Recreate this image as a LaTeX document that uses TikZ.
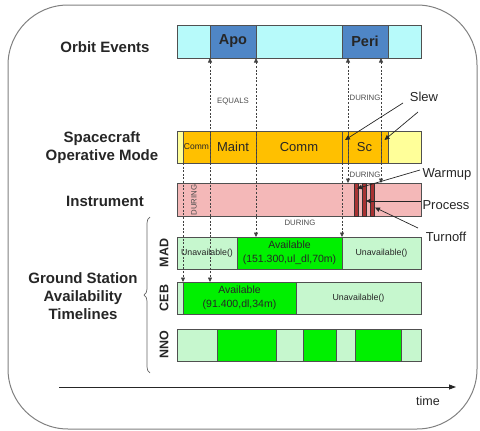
\documentclass[tikz,border=0pt]{standalone}
\usepackage{fontspec}
\setmainfont{Liberation Sans}
\usetikzlibrary{arrows.meta,decorations.pathreplacing}
\definecolor{cyanl}{HTML}{B7FAFA}
\definecolor{blueb}{HTML}{4F86C6}
\definecolor{orng}{HTML}{FFC000}
\definecolor{yell}{HTML}{FFFF99}
\definecolor{pnk}{HTML}{F4B8B8}
\definecolor{dred}{HTML}{A83232}
\definecolor{lgrn}{HTML}{C6F7CE}
\definecolor{grn}{HTML}{00F000}
\definecolor{edgec}{HTML}{505050}
\definecolor{framec}{HTML}{808080}
\begin{document}
\begin{tikzpicture}[x=1pt,y=-1pt,
  seg/.style={draw=edgec, line width=0.8pt, anchor=north west, inner sep=0pt, outer sep=0pt, align=center, text=black!85},
  orow/.style={seg, minimum height=33pt},
  srow/.style={seg, minimum height=32pt},
  gsrow/.style={seg, minimum height=32pt},
  rowlab/.style={font=\fontsize{15}{18}\selectfont\bfseries, align=center, text=black!85},
  stlab/.style={font=\fontsize{12.5}{15}\selectfont\bfseries, rotate=90, text=black!85},
  rel/.style={font=\fontsize{7.8}{9}\selectfont, text=black!70},
  call/.style={font=\fontsize{13}{15}\selectfont, text=black!85},
  bigt/.style={font=\fontsize{14.5}{17}\selectfont\bfseries},
  midt/.style={font=\fontsize{13}{15}\selectfont},
  unav/.style={font=\fontsize{8.8}{10}\selectfont},
  avail/.style={font=\fontsize{10.5}{13.5}\selectfont},
  dl/.style={draw=black!75, line width=0.6pt, dash pattern=on 2pt off 1.6pt},
  tipb/.style={{Triangle[length=4.5pt,width=4pt]}-{Triangle[length=4.5pt,width=4pt]}},
  tipe/.style={-{Triangle[length=4.5pt,width=4pt]}},
  ptr/.style={draw=black!85, line width=0.7pt, -{Triangle[length=5pt,width=4.5pt]}},
  bar/.style={draw=black!80, line width=0.5pt, fill=dred, anchor=north west, inner sep=0pt, outer sep=0pt, minimum width=4pt, minimum height=33pt}
]
\useasboundingbox (0,0) rectangle (480,431);
% frame
\draw[draw=framec, line width=1pt, rounded corners=60pt] (8,5) rectangle (477,429);

% row labels
\node[rowlab] (lorb) at (105,47) {Orbit Events};
\node[rowlab] (lsc) at (102,148) {Spacecraft\\Operative Mode};
\node[rowlab] (lins) at (105,201) {Instrument};
\node[rowlab] (lgs) at (83,296) {Ground Station\\Availability\\Timelines};
\draw[draw=black!60, line width=0.7pt, decorate, decoration={brace, amplitude=6pt}] (150,373) -- (150,217);
\node[stlab] (lmad) at (164,253) {MAD};
\node[stlab] (lceb) at (164,298) {CEB};
\node[stlab] (lnno) at (164,345) {NNO};

% orbit
\node[orow, fill=cyanl, minimum width=33pt] (o0) at (177,25) {};
\node[orow, fill=blueb, minimum width=46pt, bigt] (apo) at (210,25) {Apo};
\node[orow, fill=cyanl, minimum width=86pt] (o2) at (256,25) {};
\node[orow, fill=blueb, minimum width=46pt, bigt] (peri) at (342,25) {Peri};
\node[orow, fill=cyanl, minimum width=33pt] (o4) at (388,25) {};

% spacecraft
\node[srow, fill=yell, minimum width=6pt] (sc0) at (177,131) {};
\node[srow, fill=orng, minimum width=27pt, font=\fontsize{8.5}{10}\selectfont] (sc1) at (183,131) {Comm};
\node[srow, fill=orng, minimum width=46pt, midt] (sc2) at (210,131) {Maint};
\node[srow, fill=orng, minimum width=86pt, midt] (sc3) at (256,131) {Comm};
\node[srow, fill=orng, minimum width=6pt] (sc4) at (342,131) {};
\node[srow, fill=orng, minimum width=33pt, midt] (sc5) at (348,131) {Sc};
\node[srow, fill=orng, minimum width=7pt] (sc6) at (381,131) {};
\node[srow, fill=yell, minimum width=33pt] (sc7) at (388,131) {};

% instrument
\node[seg, fill=pnk, minimum width=244pt, minimum height=33pt] (ins) at (177,183) {};
\node[bar] (b1) at (354,183) {};
\node[bar] (b2) at (362,183) {};
\node[bar] (b3) at (370,183) {};

% MAD
\node[gsrow, fill=lgrn, minimum width=60pt, unav] (mad0) at (177,237) {Unavailable()};
\node[gsrow, fill=grn, minimum width=105pt, avail] (mad1) at (237,237) {Available\\(151.300,ul\_dl,70m)};
\node[gsrow, fill=lgrn, minimum width=79pt, unav] (mad2) at (342,237) {Unavailable()};

% CEB
\node[gsrow, fill=lgrn, minimum width=6pt] (ceb0) at (177,282) {};
\node[gsrow, fill=grn, minimum width=113pt, avail] (ceb1) at (183,282) {Available\\(91.400,dl,34m)};
\node[gsrow, fill=lgrn, minimum width=125pt, unav] (ceb2) at (296,282) {Unavailable()};

% NNO
\node[gsrow, fill=lgrn, minimum width=40pt] (n0) at (177,329) {};
\node[gsrow, fill=grn, minimum width=59pt] (n1) at (217,329) {};
\node[gsrow, fill=lgrn, minimum width=27pt] (n2) at (276,329) {};
\node[gsrow, fill=grn, minimum width=33pt] (n3) at (303,329) {};
\node[gsrow, fill=lgrn, minimum width=19pt] (n4) at (336,329) {};
\node[gsrow, fill=grn, minimum width=46pt] (n5) at (355,329) {};
\node[gsrow, fill=lgrn, minimum width=20pt] (n6) at (401,329) {};

% dashed relations
\draw[dl, tipe] (sc1.south west) -- (ceb1.north west);
\draw[dl, tipb] (apo.south west) -- (apo.south west |- ceb1.north);
\draw[dl, tipb] (apo.south east) -- (apo.south east |- mad1.north);
\draw[dl, tipe] (sc4.south west) -- (mad1.north east);
\draw[dl, tipb] (sc5.north west |- peri.south) -- (sc5.north west |- ins.north);
\draw[dl, tipb] (sc6.north west |- peri.south) -- (sc6.north west |- ins.north);

\node[rel] (eq) at (233,102) {EQUALS};
\node[rel] (dur1) at (365,98) {DURING};
\node[rel] (dur2) at (365,175) {DURING};
\node[rel, rotate=90] (dur3) at (194,200) {DURING};
\node[rel] (dur4) at (300,223) {DURING};

% callouts
\node[call] (slew) at (424,97) {Slew};
\node[call] (warm) at (447,174) {Warmup};
\node[call] (proc) at (446,205) {Process};
\node[call] (turn) at (446,237) {Turnoff};
\coordinate (s1) at (403,103);
\coordinate (s2) at (418,112);
\coordinate (w1) at (420,170);
\coordinate (p1) at (421,201);
\coordinate (t1) at (418,228);
\draw[ptr] (s1) -- ([yshift=7pt]sc4.center);
\draw[ptr] (s2) -- ([yshift=7pt]sc6.center);
\draw[ptr] (w1) -- ([yshift=11pt,xshift=1pt]b1.center);
\draw[ptr] (p1) -- (b2.east |- p1);
\draw[ptr] (t1) -- ([yshift=-8pt,xshift=1pt]b3.east);

% time axis
\coordinate (ta) at (59,387);
\coordinate (tb) at (456,387);
\draw[draw=black!85, line width=0.8pt, -{Triangle[length=7pt,width=5pt]}] (ta) -- (tb);
\node[font=\fontsize{12.5}{15}\selectfont, text=black!85] (time) at (428,401) {time};
\end{tikzpicture}
\end{document}
